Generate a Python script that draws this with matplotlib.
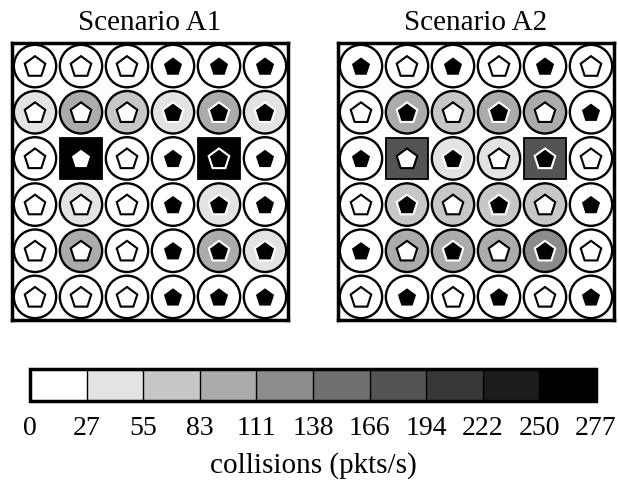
"""Collision heat grids for scenarios A1 / A2 with a discrete grey colour bar."""
import numpy as np
import matplotlib
matplotlib.use("Agg")
import matplotlib.pyplot as plt
from matplotlib.colors import ListedColormap, BoundaryNorm
from matplotlib.patches import Circle, Rectangle, RegularPolygon

plt.rcParams['font.family'] = ['Liberation Serif', 'DejaVu Serif']

# ---------------------------------------------------------------- data
titles = ["Scenario A1", "Scenario A2"]
bounds = [0, 27, 55, 83, 111, 138, 166, 194, 222, 250, 277]
grays = [1.0, 0.89, 0.78, 0.67, 0.55, 0.44, 0.33, 0.22, 0.11, 0.0]

# collisions (pkts/s) per node, row 0 = top
coll_a1 = [[5, 5, 5, 5, 5, 5],
           [40, 95, 70, 40, 95, 40],
           [5, 265, 5, 5, 265, 5],
           [5, 40, 5, 5, 40, 5],
           [5, 95, 5, 5, 95, 40],
           [5, 5, 5, 5, 5, 5]]
coll_a2 = [[5, 5, 5, 5, 5, 5],
           [5, 95, 70, 95, 95, 5],
           [5, 180, 40, 40, 180, 5],
           [5, 70, 70, 70, 70, 5],
           [5, 95, 95, 95, 120, 5],
           [5, 5, 5, 5, 5, 5]]
# 1 = black pentagon, 0 = white pentagon
pent_a1 = [[0, 0, 0, 1, 1, 1]] * 6
pent_a2 = [[1, 0, 1, 0, 1, 0],
           [0, 1, 0, 1, 0, 1],
           [1, 0, 1, 0, 1, 0],
           [0, 1, 0, 1, 0, 1],
           [1, 0, 1, 0, 1, 0],
           [0, 1, 0, 1, 0, 1]]
# access points drawn as squares (row, col)
aps = [(2, 1), (2, 4)]

cmap = ListedColormap([(g, g, g) for g in grays])
norm = BoundaryNorm(bounds, cmap.N)

W, H = 618, 480
FS = 21
fig = plt.figure(figsize=(W / 100, H / 100), dpi=100)


def panel(left, coll, pent, title):
    ax = fig.add_axes([left / W, (H - 320) / H, 276 / W, 277 / H])
    coll = np.array(coll)
    pent = np.array(pent)
    n = coll.shape[0]
    for r in range(n):
        for c in range(n):
            x, y = c + 0.5, r + 0.5
            fc = cmap(norm(coll[r, c]))
            if (r, c) in aps:
                ax.add_patch(Rectangle((x - 0.45, y - 0.45), 0.9, 0.9,
                                       facecolor=fc, edgecolor='black', lw=1.3))
            else:
                ax.add_patch(Circle((x, y), 0.46, facecolor=fc,
                                    edgecolor='black', lw=1.7))
            if pent[r, c]:
                pfc, pec = 'black', 'white'
            else:
                pfc, pec = 'white', 'black'
            ax.add_patch(RegularPolygon((x, y + 0.02), 5, radius=0.235,
                                        orientation=np.pi,
                                        facecolor=pfc, edgecolor=pec, lw=1.5))
    ax.set_xlim(0, n)
    ax.set_ylim(n, 0)
    ax.set_xticks([])
    ax.set_yticks([])
    for s in ax.spines.values():
        s.set_linewidth(2.5)
    ax.set_title(title, fontsize=FS, pad=9)


panel(12, coll_a1, pent_a1, titles[0])
panel(338, coll_a2, pent_a2, titles[1])

cax = fig.add_axes([30 / W, (H - 401) / H, 566 / W, 32 / H])
sm = plt.cm.ScalarMappable(cmap=cmap, norm=norm)
cb = fig.colorbar(sm, cax=cax, orientation='horizontal', ticks=bounds,
                  drawedges=True, spacing='uniform')
cb.outline.set_linewidth(2.5)
cb.dividers.set_linewidth(1.0)
cb.ax.tick_params(length=0, labelsize=20, pad=11)
cb.ax.set_xticklabels([str(b) for b in bounds])
cb.set_label("collisions (pkts/s)", fontsize=FS, labelpad=8)

fig.savefig("out.png", dpi=100)
